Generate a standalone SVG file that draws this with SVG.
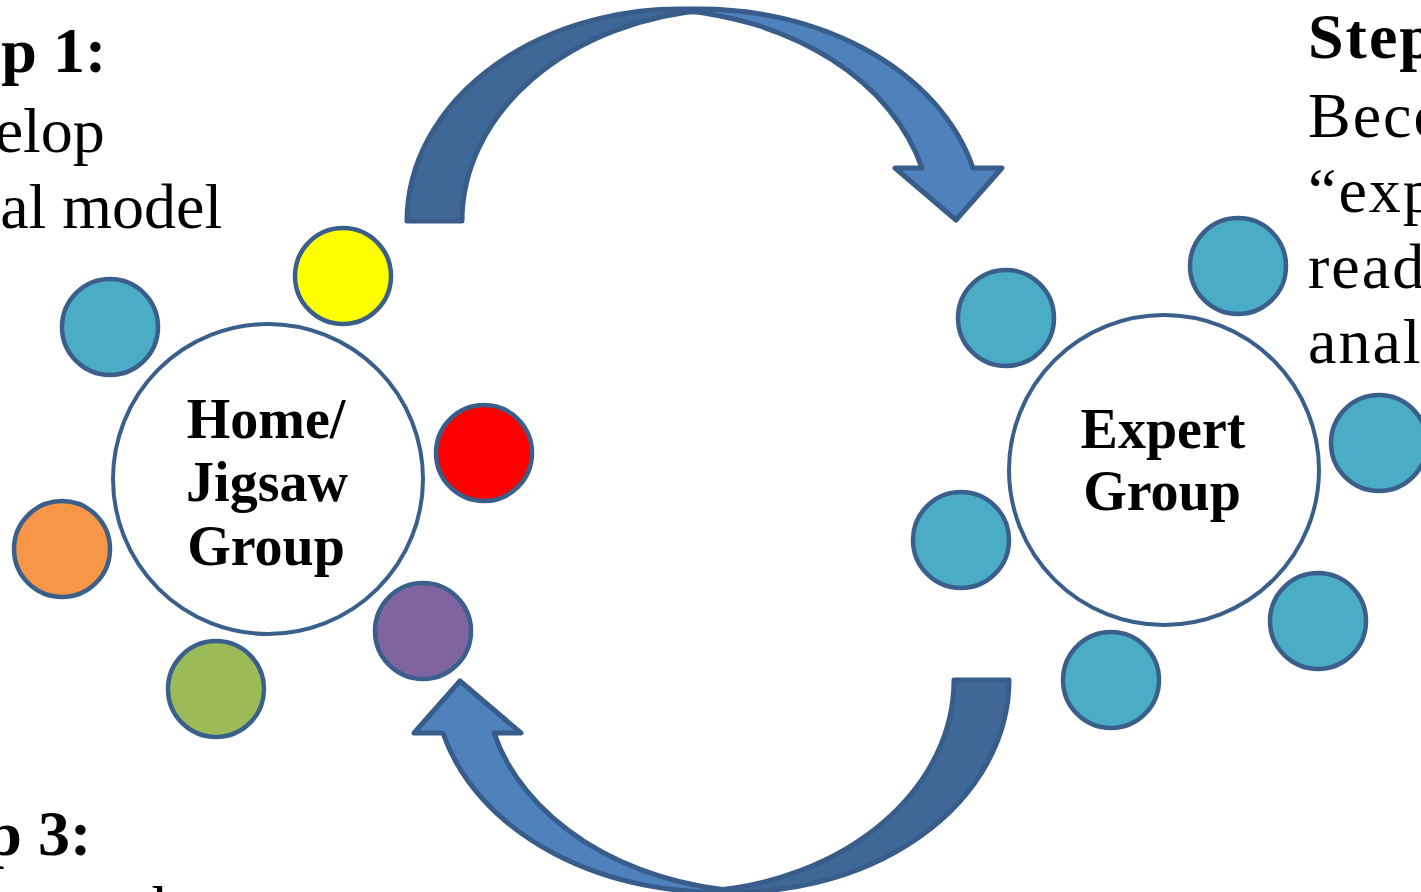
<svg xmlns="http://www.w3.org/2000/svg" width="1421" height="892" viewBox="0 0 1421 892">
<defs>
<style>
.big{fill:#ffffff;stroke:#3a5f8b;stroke-width:4}
.sm{stroke:#3a5f8b;stroke-width:4.5}
.teal{fill:#4bacc6}
.dark{fill:#3f6898;stroke:#385d8a;stroke-width:5;stroke-linejoin:round}
.light{fill:#4f81bd;stroke:#385d8a;stroke-width:5;stroke-linejoin:round}
.lbl{font-family:"Liberation Serif","DejaVu Serif",serif;font-weight:bold;font-size:56px;fill:#000;text-anchor:middle}
.hd{font-family:"Liberation Serif","DejaVu Serif",serif;font-weight:bold;font-size:64px;fill:#000}
.bd{font-family:"Liberation Serif","DejaVu Serif",serif;font-size:64px;fill:#000}
.rt{letter-spacing:2px}
</style>
<g id="arrowShape">
<path class="dark" d="M407,221 A273,212 0 0 1 707.5,10.1 A273,212 0 0 0 462,221 Z"/>
<path class="light" d="M674.5,9.9 A282,212 0 0 1 973,168 L1002,168 L956,220 L895,168 L922,168 A282,212 0 0 0 674.5,9.9 Z"/>
</g>
</defs>
<rect width="1421" height="892" fill="#ffffff"/>

<g id="connectors">
<use id="arrow-top" href="#arrowShape"/>
<use id="arrow-bottom" href="#arrowShape" transform="rotate(180 708 450.5)"/>
</g>

<g id="text-step1">
<text class="hd" x="-84" y="72">Step 1:</text>
<text class="bd" x="-112" y="152">Develop</text>
<text class="bd" x="-103" y="228">initial model</text>
</g>
<g id="text-step2">
<text class="hd rt" x="1308" y="58">Step 2:</text>
<text class="bd rt" x="1308" y="137">Become</text>
<text class="bd rt" x="1308" y="212">“experts”</text>
<text class="bd rt" x="1308" y="288">reading</text>
<text class="bd rt" x="1308" y="363">analysis</text>
</g>
<g id="text-step3">
<text class="hd" x="-99" y="855">Step 3:</text>
<text class="bd" x="-104" y="930">Return to home group</text>
</g>

<g id="home-group">
<circle class="big" cx="268" cy="479" r="155"/>
<text class="lbl" x="266" y="438">Home/</text>
<text class="lbl" x="267" y="501">Jigsaw</text>
<text class="lbl" x="266" y="565">Group</text>
</g>
<g id="home-yellow"><circle class="sm" cx="343" cy="276" r="48" fill="#ffff00"/></g>
<g id="home-teal"><circle class="sm teal" cx="110" cy="327" r="48"/></g>
<g id="home-red"><circle class="sm" cx="484" cy="453" r="48" fill="#ff0000"/></g>
<g id="home-orange"><circle class="sm" cx="62" cy="549" r="48" fill="#f79646"/></g>
<g id="home-purple"><circle class="sm" cx="423" cy="631" r="48" fill="#8064a2"/></g>
<g id="home-green"><circle class="sm" cx="216" cy="689" r="48" fill="#9bbb59"/></g>

<g id="expert-group">
<circle class="big" cx="1164" cy="470" r="155"/>
<text class="lbl" x="1163" y="448">Expert</text>
<text class="lbl" x="1162" y="510">Group</text>
</g>
<g id="expert-1"><circle class="sm teal" cx="1006" cy="318" r="48"/></g>
<g id="expert-2"><circle class="sm teal" cx="1238" cy="266" r="48"/></g>
<g id="expert-3"><circle class="sm teal" cx="1379" cy="443" r="48"/></g>
<g id="expert-4"><circle class="sm teal" cx="961" cy="540" r="48"/></g>
<g id="expert-5"><circle class="sm teal" cx="1318" cy="621" r="48"/></g>
<g id="expert-6"><circle class="sm teal" cx="1111" cy="680" r="48"/></g>
</svg>
